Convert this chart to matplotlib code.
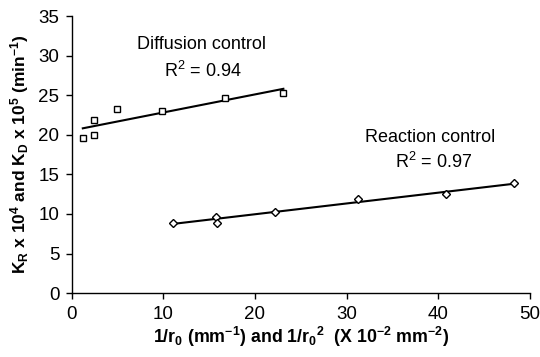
import numpy as np
import matplotlib
matplotlib.use("Agg")
import matplotlib.pyplot as plt

plt.rcParams['font.family'] = ['Liberation Sans', 'DejaVu Sans']
plt.rcParams['mathtext.default'] = 'regular'

diff_x = [1.2, 2.4, 2.4, 4.9, 9.8, 16.7, 23.1]
diff_y = [19.6, 20.0, 21.9, 23.2, 23.0, 24.6, 25.3]
react_x = [11.1, 15.7, 15.8, 22.2, 31.3, 40.9, 48.3]
react_y = [8.9, 9.6, 8.9, 10.2, 11.9, 12.5, 13.9]

xticks = [0, 10, 20, 30, 40, 50]
yticks = [0, 5, 10, 15, 20, 25, 30, 35]

fig = plt.figure(figsize=(5.4, 3.57), dpi=100)
ax = fig.add_axes([0.133, 0.179, 0.848, 0.776])

for xs, ys, m in [(diff_x, diff_y, 's'), (react_x, react_y, 'D')]:
    xs = np.array(xs); ys = np.array(ys)
    k, b = np.polyfit(xs, ys, 1)
    xl = np.array([xs.min(), xs.max()])
    ax.plot(xl, k * xl + b, color='black', lw=1.5, zorder=2)
    ax.plot(xs, ys, linestyle='none', marker=m, markersize=5 if m == 's' else 4,
            markerfacecolor='white', markeredgecolor='black', markeredgewidth=1.0, zorder=3)

ax.set_xlim(0, 50)
ax.set_ylim(0, 35)
ax.set_xticks(xticks)
ax.set_yticks(yticks)
ax.spines['top'].set_visible(False)
ax.spines['right'].set_visible(False)
for s in ['left', 'bottom']:
    ax.spines[s].set_linewidth(1.0)
ax.tick_params(direction='out', length=4, width=1, labelsize=13.5, pad=5)

ax.set_xlabel(r'1/r$_0$ (mm$^{-1}$) and 1/r$_0$$^2$  (X 10$^{-2}$ mm$^{-2}$)',
              fontsize=12.8, fontweight='bold', labelpad=2)
ax.set_ylabel(r'K$_R$ x 10$^4$ and K$_D$ x 10$^5$ (min$^{-1}$)',
              fontsize=12.5, fontweight='bold', labelpad=5)

ax.text(14.2, 31.4, 'Diffusion control', fontsize=13, ha='center', va='center')
ax.text(14.3, 28.1, r'R$^2$ = 0.94', fontsize=13, ha='center', va='center')
ax.text(39.1, 19.6, 'Reaction control', fontsize=13, ha='center', va='center')
ax.text(39.5, 16.6, r'R$^2$ = 0.97', fontsize=13, ha='center', va='center')

fig.savefig('out.png', dpi=100)
